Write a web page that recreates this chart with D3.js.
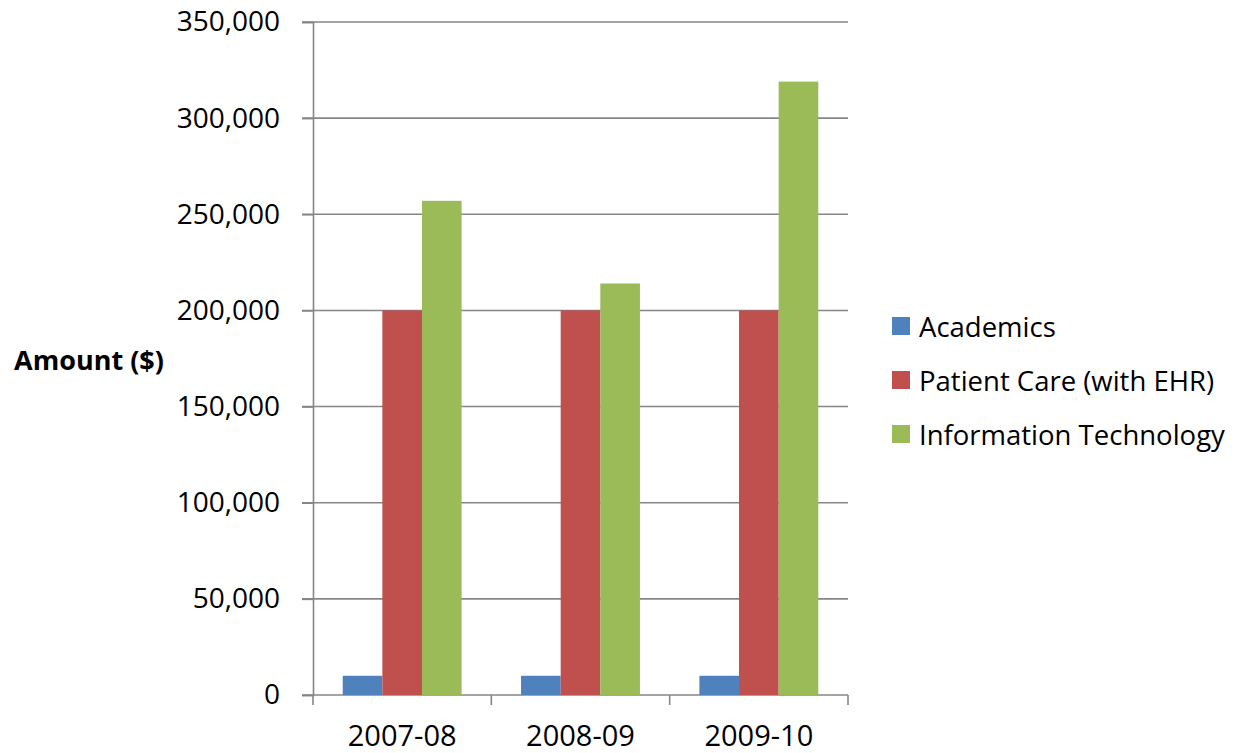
<!DOCTYPE html>
<html>
<head>
<meta charset="utf-8">
<script src="https://cdn.jsdelivr.net/npm/d3@7"></script>
<style>
  body { margin: 0; background: #fff; }
  text { font-family: "Open Sans", sans-serif; fill: #000; }
</style>
</head>
<body>
<div id="chart-area"></div>
<script>
// DATA
const years = ['2007-08', '2008-09', '2009-10']
const seriesNames = ['Academics', 'Patient Care (with EHR)', 'Information Technology']
const academics = [10000, 10000, 10000]
const patientCare = [200000, 200000, 200000]
const infoTech = [257000, 214000, 319000]
const yTicks = [0, 50000, 100000, 150000, 200000, 250000, 300000, 350000]
const colors = ['#4F81BD', '#C0504D', '#9BBB59']

const seriesValues = [academics, patientCare, infoTech]

// SET CHART MARGINS
const margin = { top: 22, left: 313, right: 388, bottom: 58 }
const width = 1236 - margin.left - margin.right
const height = 753 - margin.top - margin.bottom

const svg = d3.select('#chart-area')
              .append('svg')
              .attr('width', 1236)
              .attr('height', 753)

const g = svg.append('g')
             .attr('transform', 'translate(' + margin.left + ',' + margin.top + ')')

// SCALES
const x = d3.scaleBand()
            .domain(years)
            .range([0, width])

const y = d3.scaleLinear()
            .domain([0, 350000])
            .range([height, 0])

// bars take 3 / 4.5 of the band (Excel gap width 150%)
const barW = x.bandwidth() / 4.5
const x1 = d3.scaleBand()
             .domain(seriesNames)
             .range([barW * 0.75, barW * 3.75])

// GRIDLINES
g.append('g')
 .selectAll('line')
 .data(yTicks)
 .enter()
 .append('line')
 .attr('x1', -11)
 .attr('x2', width)
 .attr('y1', d => y(d))
 .attr('y2', d => y(d))
 .attr('stroke', '#868686')
 .attr('stroke-width', 1.6)

// BARS
seriesNames.forEach((name, i) => {
    g.append('g')
     .selectAll('rect')
     .data(years)
     .enter()
     .append('rect')
     .attr('x', d => x(d) + x1(name))
     .attr('y', (d, j) => y(seriesValues[i][j]))
     .attr('width', x1.bandwidth())
     .attr('height', (d, j) => height - y(seriesValues[i][j]))
     .attr('fill', colors[i])
})

// Y AXIS
const yAxisCall = d3.axisLeft(y)
                    .tickValues(yTicks)
                    .tickSize(11)
                    .tickPadding(22)
                    .tickFormat(d3.format(','))
const yAxisGroup = g.append('g').call(yAxisCall)
yAxisGroup.select('.domain').attr('stroke', '#868686').attr('stroke-width', 1.6)
yAxisGroup.selectAll('.tick line').attr('stroke', '#868686').attr('stroke-width', 1.6)
yAxisGroup.selectAll('text').attr('font-size', '28px').attr('font-family', '"Open Sans", sans-serif')

// X AXIS
const xAxisCall = d3.axisBottom(x)
                    .tickSize(0)
                    .tickPadding(30)
const xAxisGroup = g.append('g')
                    .attr('transform', 'translate(0,' + height + ')')
                    .call(xAxisCall)
xAxisGroup.select('.domain').remove()
xAxisGroup.selectAll('text').attr('font-size', '29px').attr('font-family', '"Open Sans", sans-serif')

// category boundary ticks
g.append('g')
 .selectAll('line')
 .data(years.concat(['end']))
 .enter()
 .append('line')
 .attr('x1', (d, i) => i < years.length ? x(d) : width)
 .attr('x2', (d, i) => i < years.length ? x(d) : width)
 .attr('y1', height)
 .attr('y2', height + 10)
 .attr('stroke', '#868686')
 .attr('stroke-width', 1.6)

// Y AXIS LABEL
svg.append('text')
   .attr('x', 89)
   .attr('y', 359)
   .attr('text-anchor', 'middle')
   .attr('dominant-baseline', 'central')
   .attr('font-size', '27px')
   .attr('font-weight', 'bold')
   .text('Amount ($)')

// LEGEND
const legend = svg.append('g')
                  .attr('transform', 'translate(892, 326)')
const rows = legend.selectAll('g')
                   .data(seriesNames)
                   .enter()
                   .append('g')
                   .attr('transform', (d, i) => 'translate(0,' + i * 54 + ')')
rows.append('rect')
    .attr('x', 0)
    .attr('y', -9)
    .attr('width', 18)
    .attr('height', 18)
    .attr('fill', (d, i) => colors[i])
rows.append('text')
    .attr('x', 27)
    .attr('y', 0)
    .attr('dominant-baseline', 'central')
    .attr('font-size', '27.5px')
    .text(d => d)
</script>
</body>
</html>
